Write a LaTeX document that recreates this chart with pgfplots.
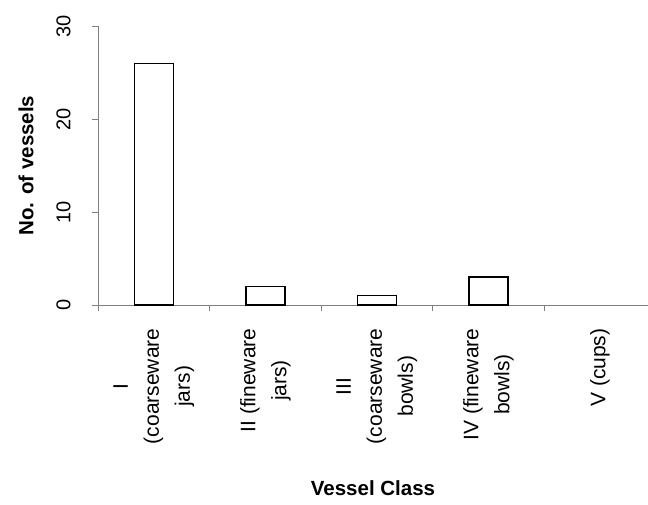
\documentclass[border=0pt]{standalone}
\usepackage{pgfplots}
\pgfplotsset{compat=1.18}
\usepackage{fontspec}
\setmainfont{Liberation Sans}
\begin{document}
\begin{tikzpicture}[x=1pt,y=1pt]
\path[use as bounding box] (-98pt,-199pt) rectangle (550pt,305pt);
\begin{axis}[
  at={(0,0)}, anchor=south west,
  scale only axis, width=550pt, height=279pt,
  xmin=-0.5, xmax=4.43, ymin=0, ymax=30,
  axis lines=left, axis line style={-, draw=gray, line width=0.8pt},
  clip=false,
  ytick={0,10,20,30},
  /pgf/number format/assume math mode=true,
  tick align=outside, major tick length=6pt,
  tick style={draw=gray, line width=0.8pt},
  yticklabel style={rotate=90, anchor=south, font=\fontsize{20}{24}\selectfont},
  yticklabel shift=18pt,
  xtick={-0.5,0.5,1.5,2.5,3.5},
  xticklabels={},
  extra x ticks={0,1,2,3,4},
  extra x tick labels={{I\\(coarseware\\jars)},{II (fineware\\jars)},{III\\(coarseware\\bowls)},{IV (fineware\\bowls)},{V (cups)}},
  extra x tick style={major tick length=0pt,
    xticklabel style={rotate=90, anchor=east, align=center, yshift=0pt, xshift=-20pt,
      font=\fontsize{21}{31}\selectfont}},
  ylabel={\textbf{No. of vessels}},
  ylabel style={font=\fontsize{20.5}{24}\selectfont, at={(axis description cs:0,0.5)}, anchor=south, yshift=61pt},
  xlabel={\textbf{Vessel Class}},
  xlabel style={font=\fontsize{20.5}{24}\selectfont},
  x label style={at={(axis description cs:0.5,0)}, anchor=south, yshift=-194pt},
]
\addplot[ybar, bar width=39pt, fill=white, draw=black, line width=1.4pt, bar shift=0pt]
  coordinates {(0,26) (1,2) (2,1) (3,3)};
\end{axis}
\end{tikzpicture}
\end{document}
